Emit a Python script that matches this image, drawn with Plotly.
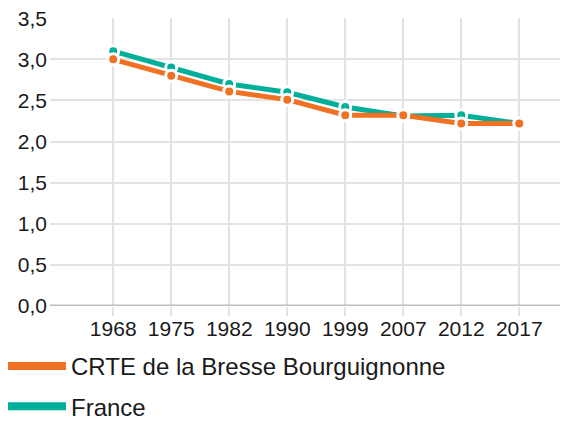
import plotly.graph_objects as go

years = ["1968", "1975", "1982", "1990", "1999", "2007", "2012", "2017"]
crte = [3.0, 2.8, 2.61, 2.51, 2.32, 2.32, 2.22, 2.22]
france = [3.1, 2.9, 2.7, 2.6, 2.42, 2.31, 2.32, 2.22]
series_names = ["CRTE de la Bresse Bourguignonne", "France"]
colors = ["#EF7121", "#00AF9A"]
y_ticks = [0, 0.5, 1.0, 1.5, 2.0, 2.5, 3.0, 3.5]

W, H = 560, 413
ML, MT, MB = 42, 10, 115

fig = go.Figure()
# France drawn first (under CRTE)
fig.add_trace(go.Scatter(
    x=years, y=france, mode="lines+markers", showlegend=False,
    line=dict(color=colors[1], width=5),
    marker=dict(size=11, color=colors[1], line=dict(color="white", width=3)),
))
fig.add_trace(go.Scatter(
    x=years, y=crte, mode="lines+markers", showlegend=False,
    line=dict(color=colors[0], width=5),
    marker=dict(size=11, color=colors[0], line=dict(color="white", width=3)),
))
# legend entries
for i, name in enumerate(series_names):
    fig.add_trace(go.Scatter(
        x=[None], y=[None], mode="lines", name=name,
        line=dict(color=colors[i], width=8), legendgroup=name,
    ))

fig.update_layout(
    width=W, height=H,
    margin=dict(l=ML, r=0, t=MT, b=MB, autoexpand=False),
    paper_bgcolor="white", plot_bgcolor="white",
    font=dict(family="Liberation Sans, Arial, sans-serif", size=21, color="#1a1a1a"),
    separators=", ",
    showlegend=True,
    legend=dict(
        orientation="v", xref="paper", yref="container",
        x=(-7 - ML) / (W - ML), xanchor="left", y=1 - 336 / H, yanchor="top",
        itemwidth=60, tracegroupgap=6, font=dict(size=24),
        bgcolor="rgba(0,0,0,0)",
    ),
    xaxis=dict(
        type="category", range=[-1.09, 7.84],
        showgrid=True, gridcolor="#e3e3e3", gridwidth=2,
        ticks="outside", ticklen=9, tickcolor="#e3e3e3", tickwidth=2,
        showline=False, zeroline=False, ticklabelstandoff=-5,
    ),
    yaxis=dict(
        range=[0, 3.503], tickvals=y_ticks, tickformat=".1f",
        showgrid=True, gridcolor="#e3e3e3", gridwidth=2,
        zeroline=False, showline=False, ticks="", ticklabelstandoff=2,
        ticklabeloverflow="allow",
    ),
    shapes=[dict(type="line", xref="paper", yref="y", x0=0, x1=1, y0=0, y1=0,
                 line=dict(color="#bdbdbd", width=3), layer="above")],
)
fig.write_html("out.html")
